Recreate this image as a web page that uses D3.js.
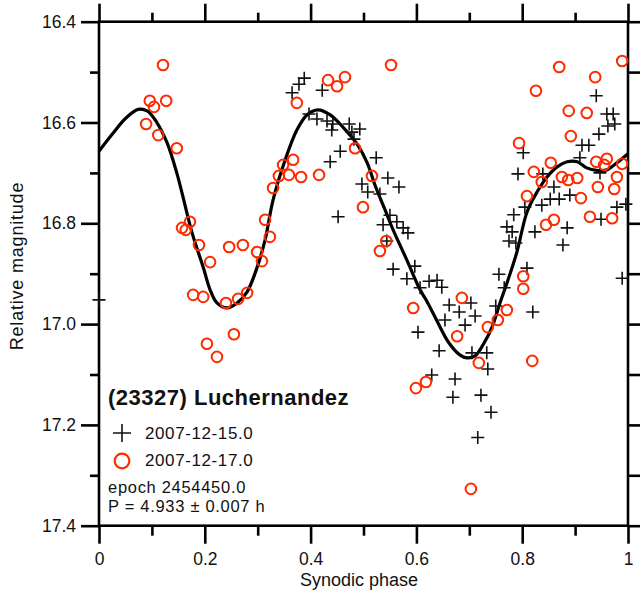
<!DOCTYPE html>
<html>
<head>
<meta charset="utf-8">
<script src="https://cdn.jsdelivr.net/npm/d3@7"></script>
<style>
  html, body { margin: 0; padding: 0; background: #fff; }
  svg { display: block; }
  text { font-family: "Liberation Sans", Arial, sans-serif; fill: #111; }
</style>
</head>
<body>
<svg id="chart" width="643" height="592"></svg>
<script>
// Night of 2007-12-15.0 (crosses)
const phase15 = [0.000,0.989,0.996,0.365,0.378,0.388,0.422,0.397,0.412,0.431,0.442,0.440,0.473,0.493,0.478,0.482,
  0.456,0.437,0.524,0.546,0.567,0.497,0.508,0.531,0.452,0.537,0.550,0.563,0.575,0.584,0.544,0.556,0.582,0.597,
  0.603,0.607,0.624,0.639,0.648,0.662,0.681,0.703,0.711,0.692,0.654,0.643,0.705,0.733,0.735,0.629,0.673,0.669,
  0.722,0.741,0.716,0.756,0.766,0.750,0.820,0.809,0.775,0.788,0.771,0.781,0.784,0.805,0.792,0.802,0.824,0.837,
  0.839,0.860,0.853,0.870,0.890,0.885,0.877,0.949,0.979,0.947,0.940,0.960,0.972,0.962,0.975,0.945,0.913,0.926,0.909];
const mag15 = [16.952,16.909,16.762,16.541,16.524,16.512,16.536,16.583,16.593,16.597,16.603,16.615,16.603,16.613,16.619,16.633,
  16.657,16.678,16.670,16.710,16.728,16.722,16.738,16.742,16.787,16.803,16.784,16.797,16.809,16.819,16.835,16.891,16.910,16.885,
  17.016,16.928,16.915,16.913,16.927,16.962,16.976,16.958,16.984,17.002,16.992,17.053,17.057,17.057,17.089,17.101,17.109,17.145,
  17.141,17.175,17.225,16.901,16.928,16.964,16.976,16.889,16.835,16.839,16.807,16.817,16.783,16.768,16.702,16.660,16.817,16.764,
  16.702,16.728,16.752,16.752,16.744,16.809,16.843,16.792,16.768,16.700,16.547,16.583,16.583,16.607,16.603,16.623,16.645,16.645,16.670];

// Night of 2007-12-17.0 (circles)
const phase17 = [0.121,0.096,0.127,0.104,0.089,0.112,0.147,0.172,0.157,0.164,0.189,0.210,0.178,0.197,0.204,0.223,
  0.240,0.263,0.280,0.246,0.272,0.255,0.314,0.323,0.299,0.308,0.329,0.340,0.348,0.367,0.359,0.382,0.374,0.416,
  0.433,0.450,0.465,0.552,0.484,0.516,0.499,0.531,0.543,0.594,0.599,0.618,0.686,0.677,0.703,0.718,0.735,0.754,
  0.771,0.802,0.802,0.819,0.794,0.809,0.822,0.837,0.845,0.860,0.826,0.870,0.854,0.875,0.887,0.904,0.888,0.892,
  0.922,0.911,0.928,0.938,0.940,0.960,0.955,0.943,0.974,0.979,0.970,0.989,0.989];
const mag17 = [16.486,16.557,16.557,16.569,16.603,16.625,16.651,16.797,16.809,16.813,16.843,16.877,16.942,16.946,17.039,17.065,
  16.958,16.950,16.938,16.847,16.843,17.020,16.793,16.827,16.857,16.875,16.730,16.706,16.684,16.674,16.704,16.708,16.561,16.704,
  16.516,16.528,16.510,16.486,16.651,16.706,16.768,16.855,16.835,16.968,17.127,17.115,16.948,17.024,17.327,17.077,17.006,16.992,
  16.972,16.905,16.930,17.073,16.641,16.746,16.698,16.718,16.803,16.793,16.537,16.490,16.680,16.708,16.714,16.710,16.577,16.627,
  16.581,16.750,16.787,16.510,16.678,16.672,16.684,16.728,16.732,16.708,16.790,16.478,16.682];

// Fitted lightcurve, sampled along phase
const fitPhase = [0.000,0.026,0.050,0.074,0.091,0.110,0.129,0.147,0.157,0.176,0.197,0.210,0.223,0.242,0.261,0.280,
  0.299,0.314,0.329,0.352,0.374,0.393,0.414,0.437,0.461,0.488,0.507,0.522,0.541,0.556,0.582,0.607,0.620,0.639,
  0.660,0.682,0.696,0.711,0.726,0.743,0.758,0.773,0.790,0.809,0.828,0.847,0.866,0.885,0.904,0.922,0.941,0.960,0.979,1.000];
const fitMag = [16.657,16.622,16.592,16.574,16.577,16.601,16.641,16.700,16.740,16.819,16.887,16.932,16.958,16.968,16.958,16.936,
  16.887,16.833,16.754,16.674,16.615,16.585,16.575,16.585,16.609,16.643,16.680,16.725,16.774,16.813,16.873,16.932,16.955,16.994,
  17.035,17.061,17.067,17.063,17.041,17.006,16.958,16.913,16.857,16.778,16.738,16.708,16.688,16.678,16.678,16.690,16.695,16.694,16.680,16.662];

const xMajor = [0, 0.2, 0.4, 0.6, 0.8, 1];
const xMinor = [0.1, 0.3, 0.5, 0.7, 0.9];
const yMajor = [16.4, 16.6, 16.8, 17.0, 17.2, 17.4];
const yMinor = [16.5, 16.7, 16.9, 17.1, 17.3];

const objectName = "(23327) Luchernandez";
const sessionLabels = ["2007-12-15.0", "2007-12-17.0"];
const epochText = "epoch 2454450.0";
const periodText = "P = 4.933 ± 0.007 h";
const xTitle = "Synodic phase";
const yTitle = "Relative magnitude";

const svg = d3.select("#chart");
const plotLeft = 99, plotRight = 628, plotTop = 21.7, plotBottom = 525.7;
const red = "#ff2a00";

const x = d3.scaleLinear().domain([0, 1]).range([plotLeft, plotRight]);
const y = d3.scaleLinear().domain([16.4, 17.4]).range([plotTop, plotBottom]);

function styleAxis(g) {
  g.select(".domain").remove();
  g.selectAll(".tick line").attr("stroke", "#000").attr("stroke-width", 2.6);
  g.selectAll(".tick text").style("font-size", "17.5px").attr("fill", "#111");
}

// Axes: major ticks with labels, minor ticks without
svg.append("g").attr("transform", `translate(${plotLeft},0)`)
  .call(d3.axisLeft(y).tickValues(yMajor).tickSize(18).tickPadding(5).tickFormat(d3.format(".1f"))).call(styleAxis);
svg.append("g").attr("transform", `translate(${plotLeft},0)`)
  .call(d3.axisLeft(y).tickValues(yMinor).tickSize(9).tickFormat("")).call(styleAxis);
svg.append("g").attr("transform", `translate(${plotRight},0)`)
  .call(d3.axisRight(y).tickValues(yMajor.concat(yMinor)).tickSize(12).tickFormat("")).call(styleAxis);
svg.append("g").attr("transform", `translate(0,${plotTop})`)
  .call(d3.axisTop(x).tickValues(xMajor).tickSize(18).tickFormat("")).call(styleAxis);
svg.append("g").attr("transform", `translate(0,${plotTop})`)
  .call(d3.axisTop(x).tickValues(xMinor).tickSize(9).tickFormat("")).call(styleAxis);
svg.append("g").attr("transform", `translate(0,${plotBottom})`)
  .call(d3.axisBottom(x).tickValues(xMajor).tickSize(18).tickPadding(9).tickFormat(d3.format("~g"))).call(styleAxis);
svg.append("g").attr("transform", `translate(0,${plotBottom})`)
  .call(d3.axisBottom(x).tickValues(xMinor).tickSize(10).tickFormat("")).call(styleAxis);

// Plot frame
svg.append("rect").attr("x", plotLeft).attr("y", plotTop)
  .attr("width", plotRight - plotLeft).attr("height", plotBottom - plotTop)
  .attr("fill", "none").attr("stroke", "#000").attr("stroke-width", 2.6);

// Axis titles
svg.append("text").attr("x", 359).attr("y", 586).attr("text-anchor", "middle")
  .style("font-size", "18px").text(xTitle);
svg.append("text").attr("transform", "translate(23,266) rotate(-90)").attr("text-anchor", "middle")
  .style("font-size", "18px").style("letter-spacing", "0.8px").text(yTitle);

// Fitted curve
const fit = fitPhase.map((p, i) => [p, fitMag[i]]);
svg.append("path").datum(fit)
  .attr("d", d3.line().x(d => x(d[0])).y(d => y(d[1])).curve(d3.curveCatmullRom))
  .attr("fill", "none").attr("stroke", "#000").attr("stroke-width", 3.2);

// Observations
const crosses = phase15.map((p, i) => [p, mag15[i]]);
const circles = phase17.map((p, i) => [p, mag17[i]]);
const crossPath = s => `M${-s},0H${s}M0,${-s}V${s}`;

svg.append("g").selectAll("path").data(crosses).join("path")
  .attr("transform", d => `translate(${x(d[0])},${y(d[1])})`)
  .attr("d", crossPath(6.5)).attr("stroke", "#111").attr("stroke-width", 1.6).attr("fill", "none");

svg.append("g").selectAll("circle").data(circles).join("circle")
  .attr("cx", d => x(d[0])).attr("cy", d => y(d[1])).attr("r", 5.3)
  .attr("fill", "none").attr("stroke", red).attr("stroke-width", 2);

// Legend and fit info
svg.append("text").attr("x", 108).attr("y", 405).style("font-size", "22px").style("font-weight", "bold")
  .style("letter-spacing", "0.5px").attr("fill", "#14142a").text(objectName);
svg.append("path").attr("transform", "translate(122,433)").attr("d", crossPath(9))
  .attr("stroke", "#111").attr("stroke-width", 1.6);
svg.append("circle").attr("cx", 122).attr("cy", 461).attr("r", 7.3)
  .attr("fill", "none").attr("stroke", red).attr("stroke-width", 2.2);
svg.append("text").attr("x", 145).attr("y", 439).style("font-size", "17px").style("letter-spacing", "0.6px")
  .text(sessionLabels[0]);
svg.append("text").attr("x", 145).attr("y", 466).style("font-size", "17px").style("letter-spacing", "0.6px")
  .text(sessionLabels[1]);
svg.append("text").attr("x", 108).attr("y", 493).style("font-size", "16.5px").style("letter-spacing", "0.7px")
  .text(epochText);
svg.append("text").attr("x", 108).attr("y", 512).style("font-size", "16.5px").style("letter-spacing", "0.7px")
  .text(periodText);
</script>
</body>
</html>
